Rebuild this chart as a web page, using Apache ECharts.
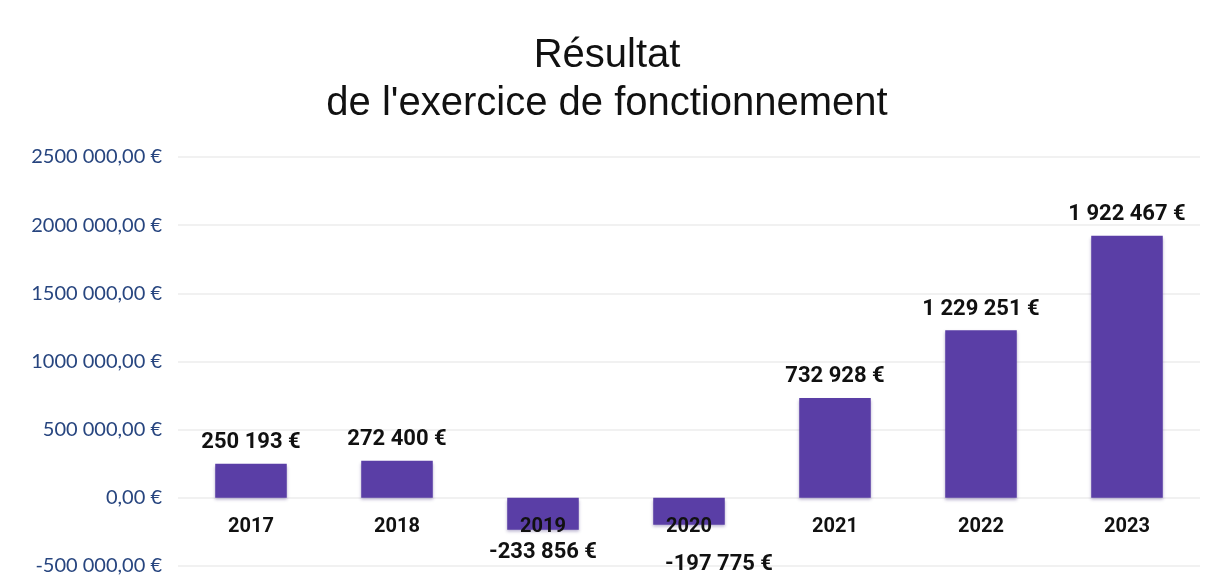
<!DOCTYPE html>
<html>
<head>
<meta charset="utf-8">
<script src="https://cdn.jsdelivr.net/npm/echarts@6/dist/echarts.min.js"></script>
<style>html,body{margin:0;padding:0;background:#fff}#c{width:1214px;height:586px}</style>
</head>
<body>
<div id="c"></div>
<script>
var categories = ['2017', '2018', '2019', '2020', '2021', '2022', '2023'];
var values = [250193, 272400, -233856, -197775, 732928, 1229251, 1922467];
var valueLabels = ['250 193 €', '272 400 €', '-233 856 €', '-197 775 €', '732 928 €', '1 229 251 €', '1 922 467 €'];
var tickValues = [-500000, 0, 500000, 1000000, 1500000, 2000000, 2500000];
var tickLabels = ['-500 000,00 €', '0,00 €', '500 000,00 €', '1000 000,00 €', '1500 000,00 €', '2000 000,00 €', '2500 000,00 €'];
var titleText = 'Résultat\nde l\'exercice de fonctionnement';

var chart = echarts.init(document.getElementById('c'), null, {renderer: 'canvas'});
var data = values.map(function (v, i) {
  return {
    value: v,
    label: {
      position: v < 0 ? 'bottom' : 'top',
      distance: 10,
      offset: i === 3 ? [30, 19] : (i === 2 ? [0, 2] : [0, 0]),
      formatter: valueLabels[i]
    }
  };
});
chart.setOption({
  animation: false,
  title: {
    text: titleText,
    left: 'center',
    top: 27,
    textStyle: {
      fontFamily: 'Liberation Sans',
      fontSize: 40,
      fontWeight: 'normal',
      color: '#111',
      lineHeight: 48
    }
  },
  grid: {left: 178, right: 14, top: 157, bottom: 20, containLabel: false, outerBoundsMode: 'none'},
  xAxis: {
    type: 'category',
    data: categories,
    offset: -68,
    z: 5,
    axisLine: {show: false, onZero: false},
    axisTick: {show: false},
    axisLabel: {
      margin: 19,
      fontFamily: 'Roboto',
      fontWeight: 'bold',
      fontSize: 20,
      color: '#111'
    }
  },
  yAxis: {
    type: 'value',
    min: -500000,
    max: 2500000,
    interval: 500000,
    axisLine: {show: false, onZero: false},
    axisTick: {show: false},
    splitLine: {lineStyle: {color: '#ececec', width: 1.5}},
    axisLabel: {
      margin: 16,
      fontFamily: 'Lato, Open Sans',
      fontSize: 20,
      color: '#27457f',
      formatter: function (v) {
        var idx = tickValues.indexOf(v);
        return idx >= 0 ? tickLabels[idx] : '';
      }
    }
  },
  series: [{
    type: 'bar',
    data: data,
    barWidth: '49%',
    itemStyle: {
      color: '#5a3ea6',
      shadowColor: 'rgba(60,40,120,0.35)',
      shadowBlur: 3,
      shadowOffsetY: 2
    },
    label: {
      show: true,
      fontFamily: 'Roboto',
      fontWeight: 'bold',
      fontSize: 22,
      color: '#111'
    }
  }]
});
</script>
</body>
</html>
